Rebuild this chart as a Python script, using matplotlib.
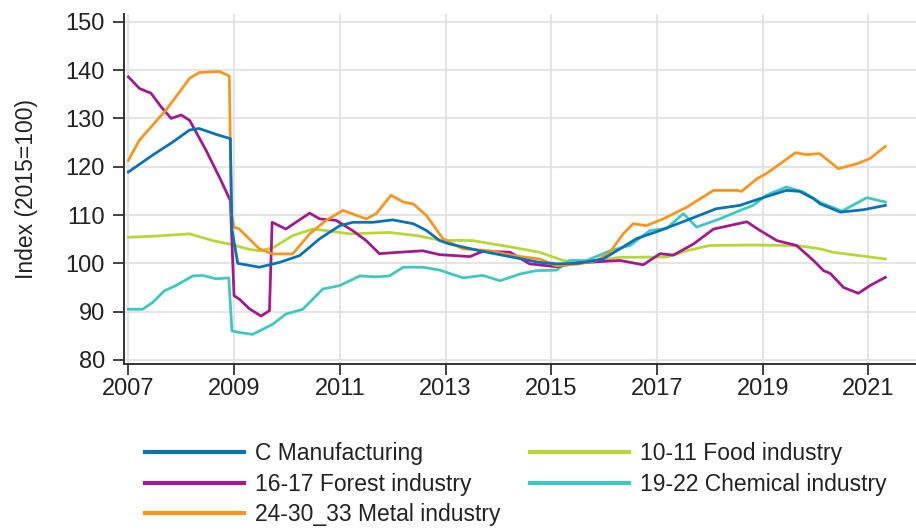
import matplotlib
matplotlib.use("Agg")
import matplotlib.pyplot as plt

plt.rcParams["font.family"] = ["Liberation Sans", "DejaVu Sans"]

# decimal-year knots and index values (2015=100)
manuf_t = [2007.0, 2007.46, 2007.84, 2008.16, 2008.34, 2008.66, 2008.93, 2008.96, 2009.07,
           2009.48, 2009.86, 2010.24, 2010.62, 2011.0, 2011.25, 2011.63, 2012.0, 2012.39,
           2012.64, 2012.89, 2013.08, 2013.65, 2014.28, 2014.78, 2015.1, 2015.5, 2015.98,
           2016.3, 2016.61, 2017.06, 2017.56, 2018.12, 2018.57, 2018.95, 2019.45, 2019.7,
           2019.96, 2020.09, 2020.47, 2020.91, 2021.32]
manuf_v = [118.9, 122.4, 125.1, 127.6, 127.9, 126.7, 125.8, 107.0, 100.0,
           99.2, 100.2, 101.6, 105.1, 107.8, 108.5, 108.5, 109.0, 108.2,
           106.8, 104.7, 104.0, 102.6, 101.25, 100.2, 99.9, 100.0, 100.9,
           103.0, 105.1, 106.8, 108.9, 111.3, 112.0, 113.4, 115.1, 114.9,
           113.4, 112.3, 110.6, 111.1, 112.0]

food_t = [2007.0, 2007.46, 2008.16, 2008.6, 2008.91, 2009.29, 2009.48, 2009.73, 2010.11,
          2010.49, 2010.8, 2011.19, 2011.94, 2012.45, 2012.89, 2013.52, 2014.28, 2014.78,
          2015.22, 2015.54, 2016.3, 2017.18, 2017.56, 2018.0, 2018.8, 2019.45, 2019.71,
          2020.09, 2020.33, 2020.97, 2021.32]
food_v = [105.4, 105.6, 106.1, 104.7, 104.0, 102.9, 102.6, 103.2, 105.75,
          107.1, 106.7, 106.1, 106.4, 105.75, 104.8, 104.7, 103.3, 102.3,
          100.6, 100.1, 101.25, 101.3, 102.6, 103.7, 103.8, 103.7, 103.6,
          103.0, 102.3, 101.4, 100.9]

forest_t = [2007.0, 2007.21, 2007.43, 2007.62, 2007.81, 2008.0, 2008.16, 2008.47, 2008.72,
            2008.93, 2009.0, 2009.1, 2009.29, 2009.51, 2009.67, 2009.72, 2009.98, 2010.43,
            2010.62, 2010.93, 2011.24, 2011.5, 2011.75, 2012.13, 2012.57, 2012.89, 2013.46,
            2013.71, 2014.22, 2014.59, 2015.1, 2015.5, 2016.3, 2016.74, 2017.06, 2017.31,
            2017.69, 2018.07, 2018.45, 2018.7, 2018.95, 2019.27, 2019.64, 2019.96, 2020.15,
            2020.28, 2020.53, 2020.81, 2021.03, 2021.32]
forest_v = [138.6, 136.2, 135.2, 132.4, 130.0, 130.7, 129.6, 123.4, 117.9,
            113.0, 93.3, 92.6, 90.6, 89.1, 90.2, 108.5, 107.1, 110.4,
            109.2, 108.9, 106.8, 104.7, 102.0, 102.3, 102.6, 101.8, 101.4,
            102.5, 102.3, 99.9, 99.3, 100.1, 100.6, 99.7, 102.0, 101.7,
            104.0, 107.1, 108.0, 108.6, 106.8, 104.7, 103.7, 100.6, 98.5,
            97.9, 95.0, 93.8, 95.4, 97.1]

chem_t = [2007.0, 2007.27, 2007.46, 2007.68, 2007.9, 2008.22, 2008.41, 2008.66, 2008.9,
          2008.96, 2009.1, 2009.35, 2009.73, 2009.98, 2010.3, 2010.68, 2011.0, 2011.38,
          2011.69, 2011.94, 2012.2, 2012.57, 2012.89, 2013.33, 2013.71, 2014.03, 2014.41,
          2014.72, 2015.1, 2015.35, 2015.67, 2016.11, 2016.49, 2016.87, 2017.18, 2017.5,
          2017.75, 2018.19, 2018.57, 2018.82, 2019.07, 2019.45, 2019.77, 2020.09, 2020.5,
          2020.97, 2021.16, 2021.32]
chem_v = [90.5, 90.5, 91.9, 94.3, 95.4, 97.4, 97.5, 96.8, 97.0,
          86.0, 85.7, 85.3, 87.4, 89.5, 90.5, 94.7, 95.4, 97.4,
          97.2, 97.4, 99.2, 99.2, 98.6, 97.0, 97.5, 96.4, 97.8,
          98.5, 98.6, 100.6, 100.6, 102.6, 103.7, 106.8, 107.2, 110.3,
          107.5, 109.2, 110.95, 112.0, 114.1, 115.8, 114.75, 112.6, 110.8,
          113.6, 113.1, 112.7]

metal_t = [2007.0, 2007.21, 2007.46, 2007.71, 2007.97, 2008.16, 2008.34, 2008.72, 2008.91,
           2008.95, 2009.0, 2009.1, 2009.48, 2009.73, 2010.11, 2010.43, 2010.74, 2011.06,
           2011.5, 2011.69, 2011.97, 2012.2, 2012.39, 2012.64, 2012.95, 2013.33, 2013.84,
           2014.28, 2014.78, 2015.1, 2015.54, 2015.86, 2016.11, 2016.36, 2016.55, 2016.8,
           2017.12, 2017.56, 2018.07, 2018.51, 2018.6, 2018.89, 2019.07, 2019.33, 2019.62,
           2019.83, 2020.08, 2020.43, 2020.78, 2021.03, 2021.32]
metal_v = [121.3, 125.5, 128.6, 131.7, 135.5, 138.3, 139.5, 139.7, 138.8,
           110.0, 107.5, 107.1, 103.0, 101.95, 101.95, 106.1, 108.9, 110.95,
           109.2, 110.3, 114.1, 112.7, 112.3, 109.9, 105.1, 103.0, 102.6,
           101.6, 100.9, 99.5, 99.9, 100.6, 102.3, 106.1, 108.2, 107.8,
           109.2, 111.6, 115.1, 115.1, 114.9, 117.5, 118.6, 120.6, 122.9,
           122.5, 122.7, 119.6, 120.6, 121.7, 124.2]

series = [
    ("C Manufacturing", manuf_t, manuf_v, "#0b72b5"),
    ("16-17 Forest industry", forest_t, forest_v, "#a3198f"),
    ("24-30_33 Metal industry", metal_t, metal_v, "#f7961f"),
    ("10-11 Food industry", food_t, food_v, "#b6d63a"),
    ("19-22 Chemical industry", chem_t, chem_v, "#3fc8c1"),
]
draw_order = [3, 4, 1, 2, 0]
year_ticks = [2007, 2009, 2011, 2013, 2015, 2017, 2019, 2021]
value_ticks = [80, 90, 100, 110, 120, 130, 140, 150]

fig = plt.figure(figsize=(9.16, 5.31), dpi=100)
ax = fig.add_axes([0.1357, 0.3145, 0.8643, 0.6591])

lines = {}
for i in draw_order:
    name, t, v, col = series[i]
    (ln,) = ax.plot(t, v, color=col, lw=2.0, label=name, solid_joinstyle="round")
    lines[i] = ln

ax.set_xlim(2006.924, 2021.90)
ax.set_ylim(79.17, 151.6)
ax.set_xticks(year_ticks)
ax.set_yticks(value_ticks)
ax.grid(True, color="#e4e4e4", lw=1.5)
ax.set_axisbelow(True)
for s in ("top", "right"):
    ax.spines[s].set_visible(False)
for s in ("left", "bottom"):
    ax.spines[s].set_color("#333333")
    ax.spines[s].set_linewidth(1.4)
ax.tick_params(axis="y", length=8, width=1.3, color="#333333", labelsize=17, pad=6, labelcolor="#222222")
ax.tick_params(axis="x", length=8, width=1.3, color="#333333", labelsize=17, pad=2, labelcolor="#222222")
ax.set_ylabel("Index (2015=100)", fontsize=16.5, color="#222222", labelpad=20)

handles = [lines[i] for i in range(5)]
leg = fig.legend(handles, [s[0] for s in series], ncol=2, loc="upper left",
                 bbox_to_anchor=(145 / 916, 1 - 442 / 531), frameon=False,
                 fontsize=16.5, handlelength=4.3, handletextpad=0.5,
                 columnspacing=1.3, labelspacing=0.33, borderpad=0, borderaxespad=0)
for lh in leg.get_lines():
    lh.set_linewidth(3)
for txt in leg.get_texts():
    txt.set_color("#222222")

fig.savefig("out.png", dpi=100)
